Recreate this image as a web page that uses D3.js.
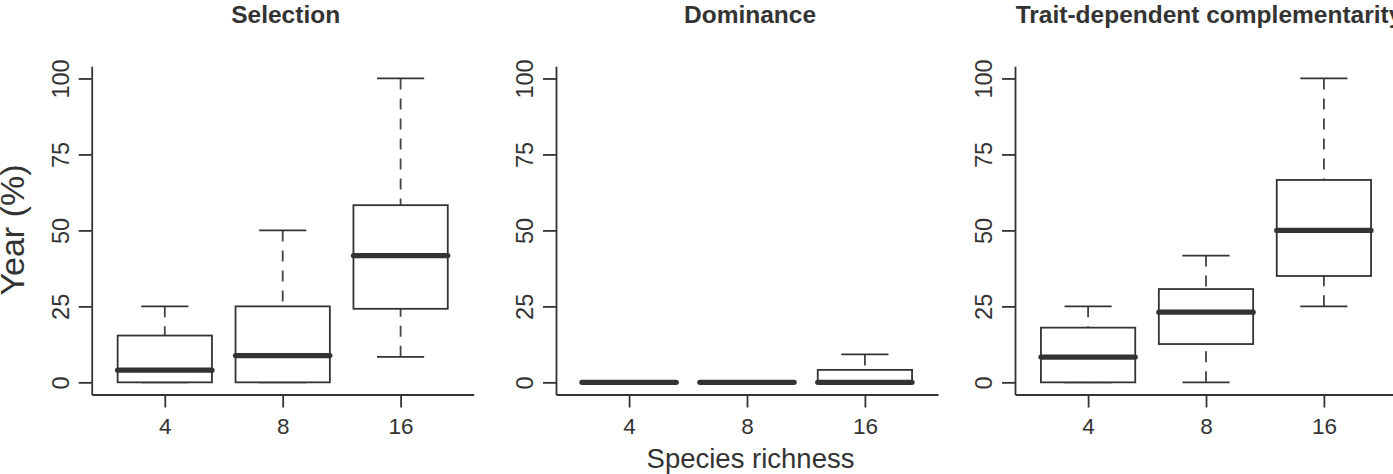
<!DOCTYPE html>
<html>
<head>
<meta charset="utf-8">
<script src="https://cdn.jsdelivr.net/npm/d3@7"></script>
<style>
  html, body { margin: 0; padding: 0; background: #fff; }
  svg { display: block; }
  text { font-family: "Liberation Sans", Arial, Helvetica, sans-serif; fill: #333; }
</style>
</head>
<body>
<svg id="chart" width="1393" height="474"></svg>
<script>
// ---- data ----
const categories = ["4", "8", "16"];
const panelTitles = ["Selection", "Dominance", "Trait-dependent complementarity"];
const yTicks = [0, 25, 50, 75, 100];
const yLabel = "Year (%)";
const xLabel = "Species richness";

// each row: [lower whisker, Q1, median, Q3, upper whisker]
const selectionStats = [
  [0, 0, 4.0, 15.4, 25],
  [0, 0, 8.8, 25, 50],
  [8.4, 24.2, 41.7, 58.3, 100]
];
const dominanceStats = [
  [0, 0, 0, 0, 0],
  [0, 0, 0, 0, 0],
  [0, 0, 0, 4.1, 9.2]
];
const complementarityStats = [
  [0, 0, 8.3, 18.0, 25],
  [0, 12.6, 23.1, 30.7, 41.7],
  [25, 35.0, 50, 66.6, 100]
];
const panelStats = [selectionStats, dominanceStats, complementarityStats];

// ---- layout ----
const svg = d3.select("#chart");
const ink = "#333";
const panelLeft = [91.7, 556, 1015];
const plotW = 382;
const y = d3.scaleLinear().domain([-4, 104]).range([394.5, 66.3]);
const boxHalf = 0.4, capHalf = 0.2;

panelStats.forEach((stats, p) => {
  const L = panelLeft[p];
  const x = d3.scaleLinear().domain([0.38, 3.62]).range([L, L + plotW]);
  const g = svg.append("g");

  // title
  g.append("text")
    .attr("x", L + plotW / 2 + 3)
    .attr("y", 22.7)
    .attr("text-anchor", "middle")
    .style("font-size", "24.5px")
    .style("font-weight", "bold")
    .text(panelTitles[p]);

  // y axis
  const ya = g.append("g")
    .attr("transform", `translate(${L},0)`)
    .call(d3.axisLeft(y).tickValues(yTicks).tickSize(13).tickSizeOuter(0).tickFormat(d3.format("d")));
  ya.selectAll("path, line").attr("stroke", ink).attr("stroke-width", 1.8);
  ya.selectAll("text")
    .attr("transform", "rotate(-90)")
    .attr("x", 0).attr("y", -31).attr("dy", "0.36em")
    .attr("text-anchor", "middle")
    .style("font-size", "23.5px").style("fill", ink)
    .style("font-family", '"Liberation Sans", Arial, sans-serif');

  // x axis
  const xa = g.append("g")
    .attr("transform", `translate(0,${y.range()[0]})`)
    .call(d3.axisBottom(x).tickValues([1, 2, 3]).tickSize(13).tickSizeOuter(0)
      .tickFormat((d) => categories[d - 1]));
  xa.selectAll("path, line").attr("stroke", ink).attr("stroke-width", 1.8);
  xa.selectAll("text")
    .attr("y", 39).attr("dy", 0)
    .style("font-size", "22.5px").style("fill", ink)
    .style("font-family", '"Liberation Sans", Arial, sans-serif');

  // boxes
  stats.forEach((s, i) => {
    const c = i + 1;
    const [lo, q1, med, q3, hi] = s;
    const bg = g.append("g");
    // whiskers (drawn from whisker end toward the box)
    bg.append("line")
      .attr("x1", x(c)).attr("x2", x(c)).attr("y1", y(hi)).attr("y2", y(q3))
      .attr("stroke", "#444").attr("stroke-width", 1.8).attr("stroke-dasharray", "11,9");
    bg.append("line")
      .attr("x1", x(c)).attr("x2", x(c)).attr("y1", y(lo)).attr("y2", y(q1))
      .attr("stroke", "#444").attr("stroke-width", 1.8).attr("stroke-dasharray", "11,9");
    // staples
    [lo, hi].forEach((v) => {
      bg.append("line")
        .attr("x1", x(c - capHalf)).attr("x2", x(c + capHalf)).attr("y1", y(v)).attr("y2", y(v))
        .attr("stroke", ink).attr("stroke-width", 1.8);
    });
    // box
    bg.append("rect")
      .attr("x", x(c - boxHalf)).attr("width", x(c + boxHalf) - x(c - boxHalf))
      .attr("y", y(q3)).attr("height", Math.max(0, y(q1) - y(q3)))
      .attr("fill", "#fff").attr("stroke", ink).attr("stroke-width", 1.8);
    // median
    bg.append("line")
      .attr("x1", x(c - boxHalf)).attr("x2", x(c + boxHalf)).attr("y1", y(med)).attr("y2", y(med))
      .attr("stroke", ink).attr("stroke-width", 5.2).attr("stroke-linecap", "round");
  });
});

// axis titles
svg.append("text")
  .attr("transform", "translate(23.5,230) rotate(-90)")
  .attr("text-anchor", "middle")
  .style("font-size", "34px")
  .text(yLabel);

svg.append("text")
  .attr("x", 750.5).attr("y", 468)
  .attr("text-anchor", "middle")
  .style("font-size", "27.5px")
  .text(xLabel);
</script>
</body>
</html>
